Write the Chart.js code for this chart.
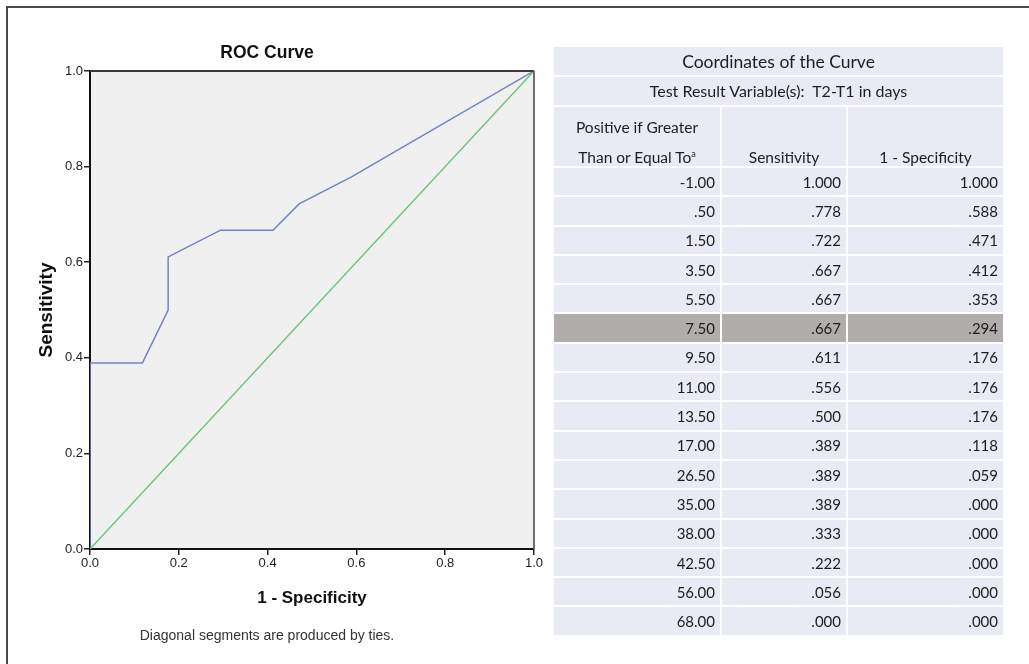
<!DOCTYPE html>
<html>
<head>
<meta charset="utf-8">
<script src="https://cdn.jsdelivr.net/npm/chart.js@4.4.0/dist/chart.umd.min.js"></script>
<style>
  html, body { margin: 0; padding: 0; background: #fff; }
  body { width: 1029px; height: 664px; position: relative; overflow: hidden; }
  #frame { position: absolute; left: 6px; top: 6px; width: 1100px; height: 700px;
           border-top: 2px solid #4a4a4a; border-left: 2px solid #4a4a4a; }
  #rocChart { position: absolute; left: 0; top: 0; }
  #coords { position: absolute; left: 552px; top: 45px; width: 453px;
            table-layout: fixed; border-collapse: separate; border-spacing: 2px;
            font-family: Lato, "Open Sans", sans-serif; font-size: 15px; color: #1e1e1e; }
  #coords td { background: #e8eaf4; box-sizing: border-box; padding: 0 5px 0 5px;
               text-align: right; white-space: nowrap; }
  #coords tr.data td { height: 27.3px; }
  #coords tr.hl td { background: #b1adad; }
  #coords td.cap { text-align: center; font-size: 17.5px; height: 28px; }
  #coords td.sub { text-align: center; font-size: 16px; height: 27.5px; }
  #coords tr.head td { text-align: center; vertical-align: bottom; height: 59.5px; font-size: 15.5px; padding: 0 2px; }
  #coords tr.head td div { line-height: 29.5px; height: 59px; overflow: visible; position: relative; top: 6px; }
  #coords tr.head td div.one { padding-top: 29.5px; height: 29.5px; }
  #coords sup { font-size: 9px; line-height: 0; vertical-align: 6px; }
</style>
</head>
<body>
<div id="frame"></div>
<canvas id="rocChart" width="560" height="664"></canvas>
<table id="coords">
  <colgroup><col style="width:166px"><col style="width:124px"><col style="width:155px"></colgroup>
  <tbody id="coordsBody"></tbody>
</table>
<script>
// cut-off values and the curve coordinates (as listed in the table)
const thresholds = [-1.00, 0.50, 1.50, 3.50, 5.50, 7.50, 9.50, 11.00, 13.50, 17.00, 26.50, 35.00, 38.00, 42.50, 56.00, 68.00];
const sensitivity = [1.000, 0.778, 0.722, 0.667, 0.667, 0.667, 0.611, 0.556, 0.500, 0.389, 0.389, 0.389, 0.333, 0.222, 0.056, 0.000];
const oneMinusSpecificity = [1.000, 0.588, 0.471, 0.412, 0.353, 0.294, 0.176, 0.176, 0.176, 0.118, 0.059, 0.000, 0.000, 0.000, 0.000, 0.000];
// reference diagonal
const diagonalX = [0, 1];
const diagonalY = [0, 1];
const tickLabels = ["0.0", "0.2", "0.4", "0.6", "0.8", "1.0"];
const highlightRow = 5;

// SPSS style numbers: ".778" instead of "0.778"
function spss(v, digits) {
    let s = v.toFixed(digits);
    if (s.startsWith("0.")) s = s.slice(1);
    if (s.startsWith("-0.")) s = "-" + s.slice(2);
    return s;
}

// table
const body = document.getElementById("coordsBody");
let html = '<tr><td class="cap" colspan="3">Coordinates of the Curve</td></tr>';
html += '<tr><td class="sub" colspan="3">Test Result Variable(s):&nbsp; T2-T1 in days</td></tr>';
html += '<tr class="head"><td><div>Positive if Greater<br>Than or Equal To<sup>a</sup></div></td>' +
        '<td><div class="one">Sensitivity</div></td><td><div class="one">1 - Specificity</div></td></tr>';
thresholds.forEach(function (t, i) {
    html += '<tr class="data' + (i === highlightRow ? ' hl' : '') + '">' +
            '<td>' + spss(t, 2) + '</td>' +
            '<td>' + spss(sensitivity[i], 3) + '</td>' +
            '<td>' + spss(oneMinusSpecificity[i], 3) + '</td></tr>';
});
body.innerHTML = html;

// grey plot background and the top/right frame lines
const plotFrame = {
    id: "plotFrame",
    beforeDraw(chart) {
        const { ctx, chartArea: a } = chart;
        ctx.save();
        ctx.fillStyle = "#f0f0f0";
        ctx.fillRect(a.left, a.top, a.right - a.left, a.bottom - a.top);
        ctx.restore();
    },
    afterDatasetsDraw(chart) {
        const { ctx, chartArea: a } = chart;
        ctx.save();
        ctx.lineWidth = 2;
        ctx.strokeStyle = "#3a3a3a";
        ctx.beginPath();
        ctx.moveTo(a.left, a.top);
        ctx.lineTo(a.right, a.top);
        ctx.stroke();
        ctx.strokeStyle = "#6e6e6e";
        ctx.beginPath();
        ctx.moveTo(a.right, a.top);
        ctx.lineTo(a.right, a.bottom);
        ctx.stroke();
        ctx.restore();
    }
};

const ctx = document.getElementById("rocChart").getContext("2d");
Chart.defaults.font.family = '"Liberation Sans", Arial, sans-serif';
new Chart(ctx, {
    type: "scatter",
    data: {
        datasets: [
            {
                label: "Reference Line",
                data: diagonalX.map((x, i) => ({ x: x, y: diagonalY[i] })),
                showLine: true,
                borderColor: "#6cc47e",
                borderWidth: 1.5,
                pointRadius: 0,
                fill: false,
            },
            {
                label: "T2-T1 in days",
                data: oneMinusSpecificity.map((x, i) => ({ x: x, y: sensitivity[i] })),
                showLine: true,
                borderColor: "#7282c4",
                borderWidth: 1.5,
                pointRadius: 0,
                fill: false,
            },
        ],
    },
    options: {
        responsive: false,
        animation: false,
        devicePixelRatio: 1,
        layout: { padding: { left: 0, right: 26, top: 0, bottom: 0 } },
        scales: {
            x: {
                type: "linear",
                min: 0,
                max: 1,
                ticks: {
                    stepSize: 0.2,
                    color: "#222",
                    font: { size: 13 },
                    padding: 1,
                    callback: (v, i) => tickLabels[i],
                },
                grid: { drawOnChartArea: false, drawTicks: true, tickLength: 6, color: "#222", lineWidth: 1.5 },
                border: { color: "#111", width: 2 },
                title: {
                    display: true,
                    text: "1 - Specificity",
                    color: "#111",
                    font: { size: 17, weight: "bold" },
                    padding: { top: 0, bottom: 10.8 },
                },
                afterFit: (s) => { s.height = 70; },
            },
            y: {
                type: "linear",
                min: 0,
                max: 1,
                ticks: {
                    stepSize: 0.2,
                    color: "#222",
                    font: { size: 13 },
                    padding: 1,
                    callback: (v, i) => tickLabels[i],
                },
                grid: { drawOnChartArea: false, drawTicks: true, tickLength: 6, color: "#222", lineWidth: 1.5 },
                border: { color: "#111", width: 2 },
                title: {
                    display: true,
                    text: "Sensitivity",
                    color: "#111",
                    font: { size: 19, weight: "bold" },
                    padding: { top: 35, bottom: 0 },
                },
                afterFit: (s) => { s.width = 90; },
            },
        },
        plugins: {
            legend: { display: false },
            tooltip: { enabled: false },
            title: {
                display: true,
                text: "ROC Curve",
                color: "#111",
                font: { size: 17.5, weight: "bold" },
                padding: { top: 42.5, bottom: 7.5 },
            },
            subtitle: {
                display: true,
                position: "bottom",
                text: "Diagonal segments are produced by ties.",
                color: "#333",
                font: { size: 14, weight: "normal" },
                padding: { top: 8.6, bottom: 19.6 },
            },
        },
    },
    plugins: [plotFrame],
});
</script>
</body>
</html>
